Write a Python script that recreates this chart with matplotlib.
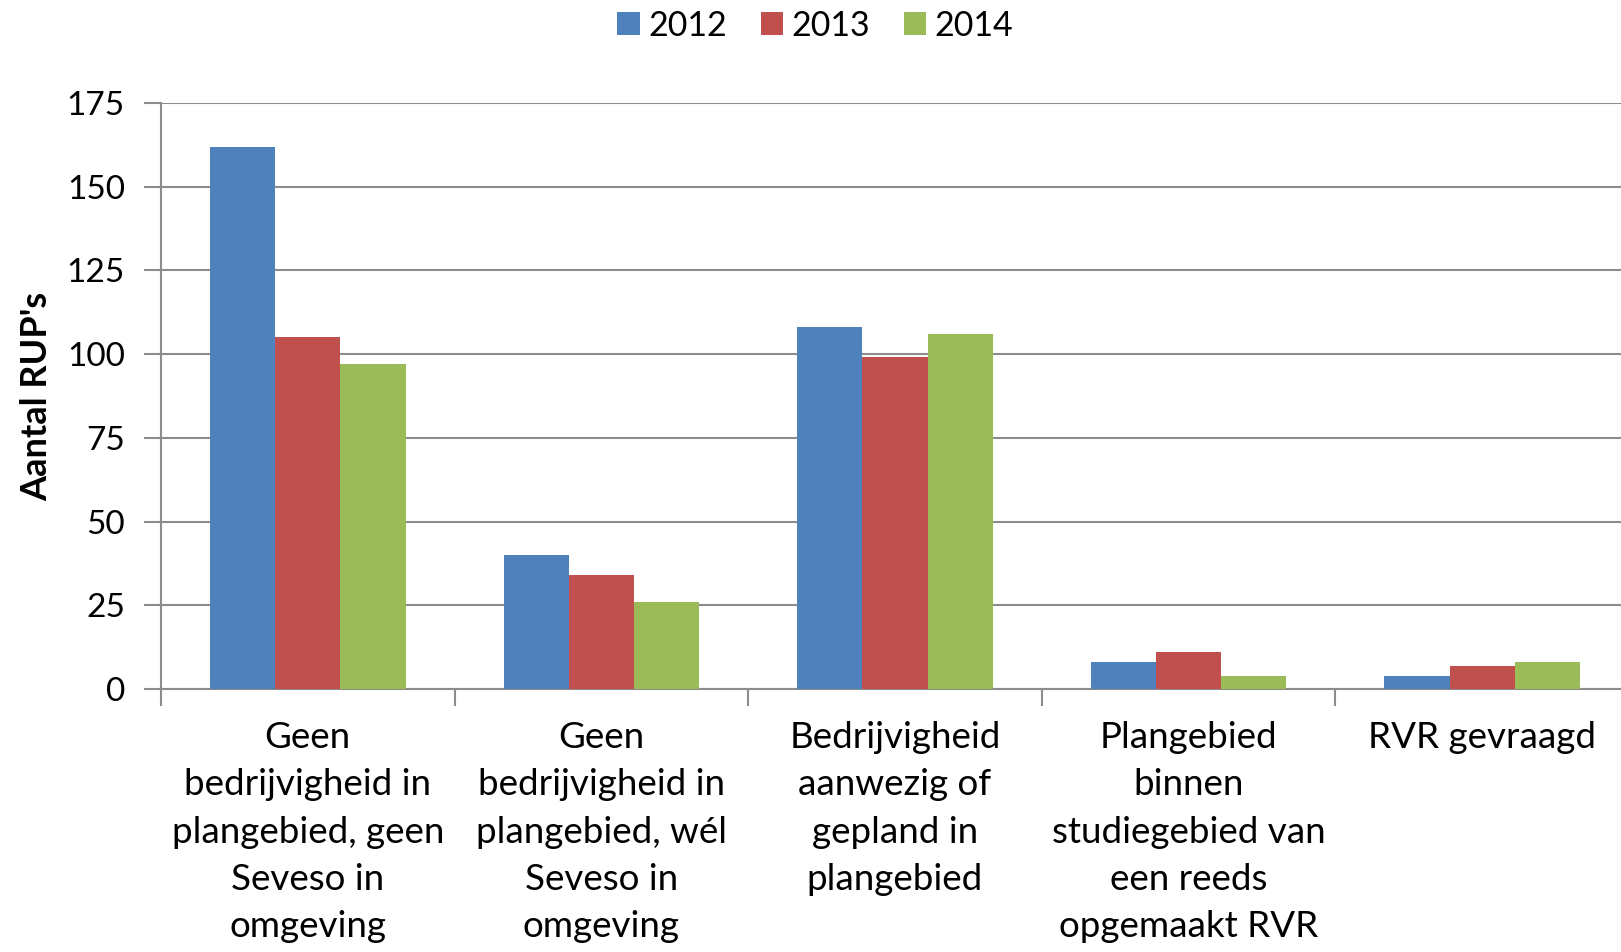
import matplotlib.pyplot as plt
import numpy as np

categories = [
    "Geen\nbedrijvigheid in\nplangebied, geen\nSeveso in\nomgeving",
    "Geen\nbedrijvigheid in\nplangebied, wél\nSeveso in\nomgeving",
    "Bedrijvigheid\naanwezig of\ngepland in\nplangebied",
    "Plangebied\nbinnen\nstudiegebied van\neen reeds\nopgemaakt RVR",
    "RVR gevraagd",
]
years = ["2012", "2013", "2014"]
v2012 = [162, 40, 108, 8, 4]
v2013 = [105, 34, 99, 11, 7]
v2014 = [97, 26, 106, 4, 8]
colors = ["#4F81BD", "#C0504D", "#9BBB59"]

plt.rcParams["font.family"] = ["Lato", "DejaVu Sans"]

fig = plt.figure(figsize=(16.21, 9.52), dpi=100)
ax = fig.add_axes([0.0993, 0.2763, 0.9007, 0.6155])

x = np.arange(len(categories))
w = 0.222
for i, (vals, yr) in enumerate(zip([v2012, v2013, v2014], years)):
    ax.bar(x + (i - 1) * w, vals, width=w, color=colors[i], label=yr, zorder=3)

ax.set_ylim(0, 175)
ax.set_yticks(range(0, 176, 25))
ax.set_xlim(-0.5, 4.473)
ax.grid(axis="y", color="#8c8c8c", linewidth=1.5, zorder=0)

for s in ["top", "right"]:
    ax.spines[s].set_visible(False)
for s in ["left", "bottom"]:
    ax.spines[s].set_color("#8c8c8c")
    ax.spines[s].set_linewidth(1.5)

ax.tick_params(axis="y", labelsize=24, length=12, width=1.5, color="#8c8c8c", pad=14)
ax.set_xticks(np.arange(-0.5, 4.5, 1.0))
ax.set_xticklabels([])
ax.tick_params(axis="x", length=12, width=1.5, color="#8c8c8c")
ax.set_xticks(x, minor=True)
ax.set_xticklabels(categories, minor=True, fontsize=26.5, linespacing=1.53, va="top")
ax.tick_params(axis="x", which="minor", length=0, pad=23)

ax.set_ylabel("Aantal RUP's", fontsize=26, fontweight="bold", labelpad=10)

ax.legend(loc="center", bbox_to_anchor=(0.503, 0.973), bbox_transform=fig.transFigure,
          ncol=3, frameon=False, fontsize=24.5, handlelength=0.65, handleheight=0.65,
          handletextpad=0.25, columnspacing=1.0)

fig.savefig("out.png", dpi=100)
